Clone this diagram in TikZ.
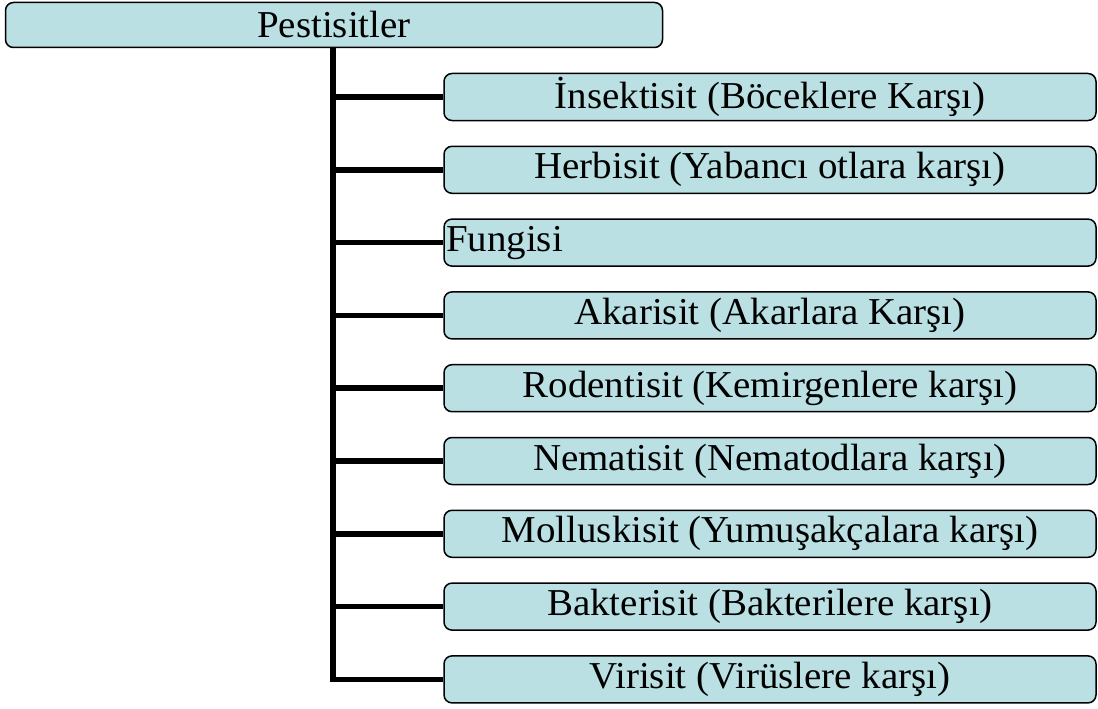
\documentclass[tikz,border=0pt]{standalone}
\usepackage{fontspec}
\setmainfont[FakeStretch=1.025]{Liberation Serif}
\definecolor{boxfill}{RGB}{186,224,228}
\tikzset{
  box/.style={draw=black, line width=1.5pt, rounded corners=8pt, fill=boxfill,
    inner sep=0pt, font=\fontsize{38}{40}\selectfont},
  child/.style={box, minimum width=652pt, minimum height=47pt},
  link/.style={line width=5.5pt}
}
\begin{document}
\begin{tikzpicture}[x=1pt,y=-1pt]
\useasboundingbox (0,0) rectangle (1098,709);
\node[box, minimum width=657pt, minimum height=45pt] (top) at (334,25) {Pestisitler};
\coordinate (trunk) at (333,47);
\node[child] (c1) at (770,97) {İnsektisit (Böceklere Karşı)};
\node[child] (c2) at (770,169.8) {Herbisit (Yabancı otlara karşı)};
\node[child, text width=652pt, align=left] (c3) at (770,242.6) {\hspace{2pt}Fungisi};
\node[child] (c4) at (770,315.4) {Akarisit (Akarlara Karşı)};
\node[child] (c5) at (770,388.2) {Rodentisit (Kemirgenlere karşı)};
\node[child] (c6) at (770,461) {Nematisit (Nematodlara karşı)};
\node[child] (c7) at (770,533.8) {Molluskisit (Yumuşakçalara karşı)};
\node[child] (c8) at (770,606.6) {Bakterisit (Bakterilere karşı)};
\node[child] (c9) at (770,679.4) {Virisit (Virüslere karşı)};
\draw[link] (top.south -| trunk) -- (trunk |- c9.west) -- (c9.west);
\foreach \i in {1,...,8}{
  \draw[link] (trunk |- c\i.west) -- (c\i.west);
}
\end{tikzpicture}
\end{document}
